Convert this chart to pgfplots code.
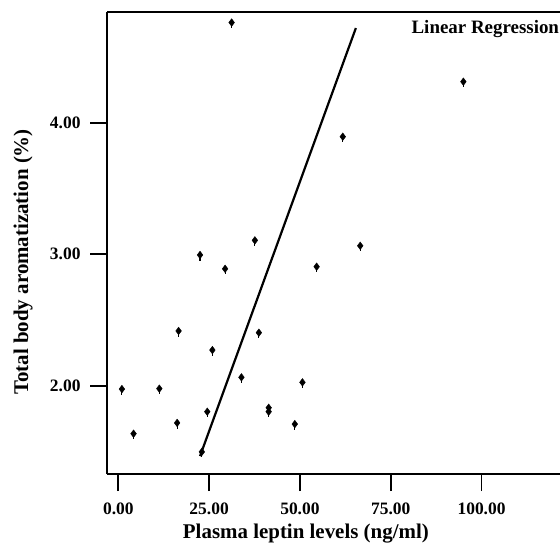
\documentclass[border=0pt]{standalone}
\usepackage{pgfplots}
\pgfplotsset{compat=1.18}
\usepackage{fontspec}
\setmainfont{Liberation Serif}
\begin{document}
\begin{tikzpicture}
\useasboundingbox (0,0) rectangle (560bp,545bp);
\begin{axis}[
  at={(107bp,71bp)}, anchor=south west,
  scale only axis, width=453bp, height=462bp,
  xmin=-3.11, xmax=121.6, ymin=1.332, ymax=4.84,
  axis lines*=left,
  axis line style={line width=1.8bp, -},
  xtick={0,25,50,75,100}, ytick={2,3,4},
  tick align=outside, major tick length=17bp,
  every tick/.style={black, line width=1.8bp},
  minor tick num=0,
  /pgf/number format/assume math mode=true,
  ticklabel style={font=\fontsize{17.5}{20}\selectfont\bfseries},
  xticklabel style={yshift=-8bp},
  yticklabel style={xshift=-6bp},
  xticklabel={\pgfmathprintnumber[fixed,fixed zerofill,precision=2]{\tick}},
  yticklabel={\pgfmathprintnumber[fixed,fixed zerofill,precision=2]{\tick}},
  xlabel={Plasma leptin levels (ng/ml)},
  ylabel={Total body aromatization (\%)},
  label style={font=\fontsize{21}{24}\selectfont\bfseries},
  xlabel style={at={(axis description cs:0.439,0)}, anchor=base, yshift=-64bp},
  ylabel style={at={(axis description cs:0,0.459)}, anchor=center, yshift=84bp},
  clip=false,
  extra description/.code={
    \draw[line width=1.8bp] (0,1) -- (1,1);
    \node[anchor=base west, inner sep=0pt, font=\fontsize{19}{22}\selectfont\bfseries] at (0.672,0.9545) {Linear Regression};
  },
]
\addplot[only marks, mark=diamond*, mark size=3.8bp, black] table {
x y
1.0 1.977
4.2 1.638
11.3 1.98
16.2 1.72
16.6 2.418
22.5 2.995
23.0 1.50
24.5 1.805
25.9 2.273
29.4 2.89
31.2 4.76
33.9 2.066
37.6 3.106
38.7 2.405
41.4 1.835
41.4 1.805
48.6 1.711
50.7 2.028
54.6 2.906
61.8 3.893
66.6 3.065
95.0 4.311
};
\addplot[only marks, mark=|, mark size=2.8bp, mark options={yshift=-2.8bp, line width=1.1bp}, black] table {
x y
1.0 1.977
4.2 1.638
11.3 1.98
16.2 1.72
16.6 2.418
22.5 2.995
23.0 1.50
24.5 1.805
25.9 2.273
29.4 2.89
31.2 4.76
33.9 2.066
37.6 3.106
38.7 2.405
41.4 1.835
41.4 1.805
48.6 1.711
50.7 2.028
54.6 2.906
61.8 3.893
66.6 3.065
95.0 4.311
};
\addplot[black, line width=2.2bp] coordinates {(22.5,1.468) (65.4,4.718)};
\end{axis}
\end{tikzpicture}
\end{document}
